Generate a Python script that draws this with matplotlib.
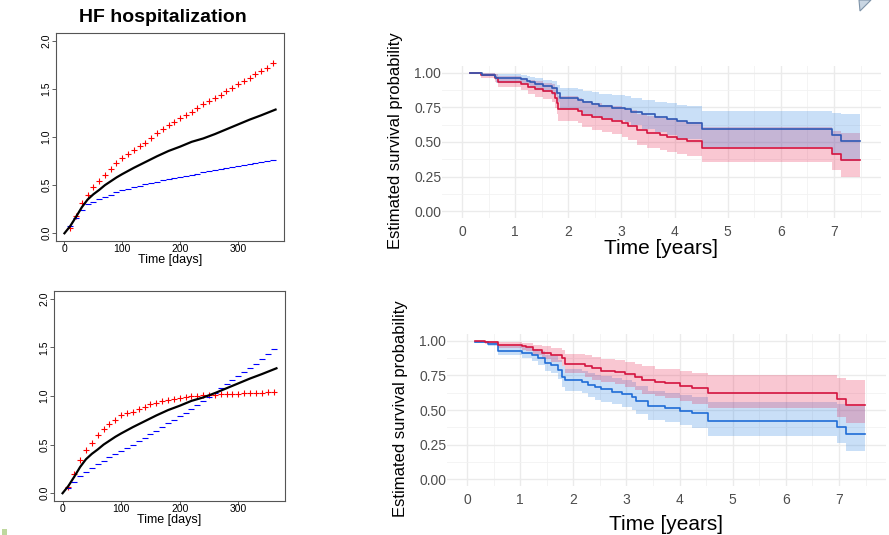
import numpy as np
import matplotlib
matplotlib.use("Agg")
import matplotlib.pyplot as plt
from matplotlib.patches import Polygon, Rectangle
from matplotlib.ticker import MultipleLocator

plt.rcParams['font.family'] = ['Liberation Sans', 'DejaVu Sans']

# ---------------------- LEFT PANELS (cumulative HF hospitalization) ----------------------
curve_days = [0, 10, 20, 30, 40, 50, 60, 70, 80, 90, 100, 120, 140, 160, 180,
              200, 220, 240, 260, 280, 300, 320, 340, 365]
curve_vals = [0, 0.075, 0.17, 0.27, 0.35, 0.405, 0.45, 0.50, 0.54, 0.58, 0.615,
              0.68, 0.74, 0.80, 0.855, 0.90, 0.95, 0.985, 1.03, 1.08, 1.13,
              1.18, 1.225, 1.285]

marker_days = list(range(10, 361, 10))

top_red = [0.06, 0.175, 0.31, 0.40, 0.48, 0.54, 0.61, 0.67, 0.73, 0.78, 0.82, 0.86,
           0.91, 0.94, 0.99, 1.04, 1.08, 1.12, 1.16, 1.20, 1.23, 1.26, 1.30, 1.34,
           1.37, 1.40, 1.44, 1.48, 1.51, 1.55, 1.58, 1.61, 1.65, 1.69, 1.72, 1.77]
top_blue = [0.08, 0.16, 0.24, 0.30, 0.33, 0.355, 0.38, 0.40, 0.43, 0.45, 0.465, 0.48,
            0.495, 0.51, 0.525, 0.535, 0.55, 0.56, 0.575, 0.585, 0.595, 0.61, 0.62,
            0.635, 0.645, 0.66, 0.67, 0.68, 0.69, 0.70, 0.71, 0.72, 0.73, 0.74, 0.75, 0.76]

bot_red = [0.06, 0.20, 0.34, 0.44, 0.52, 0.60, 0.66, 0.71, 0.75, 0.80, 0.83, 0.84,
           0.87, 0.89, 0.92, 0.93, 0.95, 0.96, 0.97, 0.98, 0.99, 1.00, 1.005, 1.01,
           1.01, 1.015, 1.02, 1.02, 1.025, 1.025, 1.03, 1.03, 1.035, 1.035, 1.04, 1.04]
bot_blue = [0.05, 0.12, 0.18, 0.22, 0.26, 0.30, 0.33, 0.37, 0.40, 0.43, 0.47, 0.50,
            0.54, 0.57, 0.61, 0.64, 0.68, 0.72, 0.75, 0.79, 0.83, 0.87, 0.91, 0.95,
            0.99, 1.03, 1.08, 1.12, 1.16, 1.21, 1.25, 1.29, 1.33, 1.38, 1.43, 1.48]

day_ticks = [0, 100, 200, 300]
cum_ticks = [0.0, 0.5, 1.0, 1.5, 2.0]

# ---------------------- RIGHT PANELS (Kaplan-Meier) ----------------------
# top-right
t1_blue_t = [0.15, 0.37, 0.62, 0.65, 1.12, 1.22, 1.28, 1.37, 1.53, 1.69, 1.78, 1.84, 2.19, 2.28,
             2.44, 2.57, 2.82, 3.07, 3.19, 3.38, 3.63, 3.85, 4.04, 4.23, 4.51, 6.96, 7.14, 7.49]
t1_blue_s = [1.0, 0.988, 0.973, 0.961, 0.954, 0.944, 0.932, 0.92, 0.906, 0.889, 0.853, 0.816, 0.804,
             0.787, 0.775, 0.761, 0.749, 0.737, 0.72, 0.70, 0.679, 0.665, 0.65, 0.64, 0.592, 0.548,
             0.507, 0.507]
t1_blue_hi = [1.0, 1.0, 0.995, 0.99, 0.985, 0.978, 0.97, 0.962, 0.952, 0.94, 0.915, 0.89, 0.88, 0.87,
              0.86, 0.85, 0.84, 0.83, 0.82, 0.805, 0.79, 0.78, 0.77, 0.76, 0.725, 0.71, 0.70, 0.70]
t1_blue_lo = [1.0, 0.975, 0.95, 0.93, 0.92, 0.91, 0.895, 0.878, 0.86, 0.838, 0.79, 0.74, 0.728, 0.705,
              0.69, 0.672, 0.658, 0.644, 0.62, 0.595, 0.57, 0.55, 0.53, 0.52, 0.465, 0.41, 0.36, 0.36]

t1_red_t = [0.15, 0.35, 0.62, 0.68, 1.12, 1.25, 1.37, 1.53, 1.69, 1.75, 1.78, 1.81, 2.19, 2.25, 2.44,
            2.63, 2.82, 3.01, 3.13, 3.29, 3.48, 3.73, 3.85, 4.04, 4.23, 4.51, 6.96, 7.14, 7.49]
t1_red_s = [1.0, 0.983, 0.961, 0.935, 0.92, 0.901, 0.882, 0.87, 0.853, 0.816, 0.78, 0.739, 0.727,
            0.696, 0.679, 0.665, 0.652, 0.635, 0.616, 0.587, 0.563, 0.551, 0.539, 0.52, 0.51, 0.46,
            0.413, 0.37, 0.37]
t1_red_hi = [1.0, 0.997, 0.99, 0.975, 0.965, 0.952, 0.94, 0.93, 0.918, 0.89, 0.86, 0.83, 0.82, 0.795,
             0.78, 0.77, 0.76, 0.745, 0.73, 0.705, 0.685, 0.675, 0.665, 0.65, 0.645, 0.61, 0.58,
             0.567, 0.567]
t1_red_lo = [0.99, 0.965, 0.935, 0.895, 0.875, 0.85, 0.825, 0.81, 0.79, 0.745, 0.70, 0.655, 0.64,
             0.605, 0.585, 0.57, 0.555, 0.535, 0.515, 0.48, 0.455, 0.445, 0.43, 0.41, 0.40, 0.357,
             0.297, 0.246, 0.246]

# bottom-right
t2_red_t = [0.15, 0.34, 0.59, 1.03, 1.12, 1.25, 1.41, 1.59, 1.78, 1.84, 2.22, 2.35, 2.53, 2.78,
            2.97, 3.16, 3.29, 3.54, 3.73, 4.01, 4.23, 4.54, 6.96, 7.14, 7.49]
t2_red_s = [1.0, 0.99, 0.971, 0.962, 0.954, 0.935, 0.915, 0.899, 0.875, 0.836, 0.819, 0.802, 0.785,
            0.773, 0.761, 0.742, 0.717, 0.70, 0.693, 0.674, 0.657, 0.625, 0.58, 0.536, 0.536]
t2_red_hi = [1.0, 1.0, 0.99, 0.985, 0.982, 0.97, 0.96, 0.95, 0.935, 0.905, 0.895, 0.88, 0.87, 0.86,
             0.85, 0.835, 0.815, 0.80, 0.795, 0.78, 0.77, 0.754, 0.73, 0.717, 0.717]
t2_red_lo = [1.0, 0.975, 0.95, 0.935, 0.925, 0.90, 0.87, 0.85, 0.815, 0.765, 0.742, 0.72, 0.70, 0.685,
             0.67, 0.645, 0.615, 0.60, 0.59, 0.565, 0.545, 0.515, 0.45, 0.405, 0.405]

t2_blue_t = [0.15, 0.40, 0.59, 1.03, 1.22, 1.34, 1.47, 1.59, 1.72, 1.78, 1.84, 2.16, 2.28, 2.41,
             2.53, 2.72, 2.91, 3.10, 3.19, 3.41, 3.73, 4.01, 4.23, 4.54, 6.96, 7.14, 7.49]
t2_blue_s = [0.995, 0.978, 0.93, 0.916, 0.899, 0.875, 0.838, 0.826, 0.79, 0.74, 0.717, 0.70, 0.681,
             0.664, 0.65, 0.633, 0.616, 0.597, 0.568, 0.53, 0.512, 0.495, 0.476, 0.423, 0.38, 0.324,
             0.324]
t2_blue_hi = [1.0, 0.995, 0.965, 0.955, 0.945, 0.93, 0.90, 0.89, 0.86, 0.82, 0.80, 0.785, 0.77, 0.755,
              0.745, 0.73, 0.715, 0.70, 0.675, 0.64, 0.625, 0.61, 0.595, 0.56, 0.545, 0.53, 0.53]
t2_blue_lo = [0.985, 0.96, 0.895, 0.875, 0.855, 0.825, 0.78, 0.765, 0.725, 0.665, 0.635, 0.62, 0.595,
              0.575, 0.56, 0.54, 0.52, 0.50, 0.47, 0.43, 0.41, 0.39, 0.37, 0.315, 0.26, 0.20, 0.20]

year_ticks = [0, 1, 2, 3, 4, 5, 6, 7]
surv_ticks = [0.0, 0.25, 0.5, 0.75, 1.0]

RED = "#D4143F"
RED_FILL = "#E8204F"
BLUE_TOP = "#3058B4"
BLUE_BOT = "#1F6CD6"
BLUE_FILL = "#2A80E0"

# ---------------------- FIGURE ----------------------
W, H = 889, 535
fig = plt.figure(figsize=(W / 100, H / 100), dpi=100)


def box(l, t, r, b):
    return [l / W, 1 - b / H, (r - l) / W, (b - t) / H]


def draw_cum(ax, red, blue):
    ax.plot(curve_days, curve_vals, color="black", lw=1.6, zorder=3)
    ax.plot(marker_days, red, ls="none", marker="+", color="#FF0000",
            ms=4, mew=0.8, zorder=2)
    ax.plot(marker_days, blue, ls="none", marker="_", color="#0000FF",
            ms=4.5, mew=0.8, zorder=2)
    ax.set_xlim(-14.6, 379.6)
    ax.set_ylim(-0.08, 2.08)
    ax.set_xticks(day_ticks)
    ax.set_yticks(cum_ticks)
    ax.set_yticklabels([f"{v:.1f}" for v in cum_ticks], rotation=90, va="center")
    ax.tick_params(direction="out", length=3, width=0.6, labelsize=7.5,
                   color="#444444")
    ax.tick_params(axis="x", pad=-0.5)
    ax.tick_params(axis="y", pad=0.3)
    for s in ax.spines.values():
        s.set_color("#555555")
        s.set_linewidth(0.8)
    ax.set_xlabel("Time [days]", fontsize=9, labelpad=0)


ax1 = fig.add_axes(box(56, 33, 284, 241))
draw_cum(ax1, top_red, top_blue)
fig.text(163 / W, 1 - 17 / H, "HF hospitalization", ha="center", va="center",
         fontsize=14, fontweight="bold")

ax2 = fig.add_axes(box(54, 291, 285, 501))
draw_cum(ax2, bot_red, bot_blue)


def draw_km(ax, curves, xlab_y):
    for t, s, lo, hi, col, fill in curves:
        ax.fill_between(t, lo, hi, step="post", color=fill, alpha=0.25, lw=0, zorder=1)
    for t, s, lo, hi, col, fill in curves:
        ax.step(t, s, where="post", color=col, lw=1.2, zorder=3)
    ax.set_xlim(-0.375, 7.875)
    ax.set_ylim(-0.05, 1.05)
    ax.set_xticks(year_ticks)
    ax.set_yticks(surv_ticks)
    ax.set_yticklabels([f"{v:.2f}" for v in surv_ticks])
    ax.xaxis.set_minor_locator(MultipleLocator(0.5))
    ax.yaxis.set_minor_locator(MultipleLocator(0.125))
    ax.grid(True, which="major", color="#EBEBEB", lw=1.0, zorder=0)
    ax.grid(True, which="minor", color="#F2F2F2", lw=0.6, zorder=0)
    ax.set_axisbelow(True)
    for s in ax.spines.values():
        s.set_visible(False)
    ax.tick_params(which="both", length=0, labelsize=10, labelcolor="#4D4D4D")
    ax.tick_params(axis="x", pad=5)
    ax.tick_params(axis="y", pad=0.5)
    ax.set_ylabel("Estimated survival probability", fontsize=12)
    ax.yaxis.set_label_coords(-0.089, 0.507)
    ax.set_xlabel("Time [years]", fontsize=15)
    ax.xaxis.set_label_coords(0.5, xlab_y)


ax3 = fig.add_axes(box(442, 66, 880.5, 218))
draw_km(ax3, [(t1_red_t, t1_red_s, t1_red_lo, t1_red_hi, RED, RED_FILL),
              (t1_blue_t, t1_blue_s, t1_blue_lo, t1_blue_hi, BLUE_TOP, BLUE_FILL)], -0.135)

ax4 = fig.add_axes(box(447, 334, 885.5, 486))
draw_km(ax4, [(t2_blue_t, t2_blue_s, t2_blue_lo, t2_blue_hi, BLUE_BOT, BLUE_FILL),
              (t2_red_t, t2_red_s, t2_red_lo, t2_red_hi, RED, RED_FILL)], -0.19)

# slide decorations
fig.patches.append(Polygon([[859 / W, 1.0], [871 / W, 1.0], [860 / W, 1 - 11 / H]],
                           closed=True, transform=fig.transFigure,
                           facecolor="#C9D6E3", edgecolor="#7E93A8", lw=0.8))
fig.patches.append(Rectangle((2 / W, 0), 5 / W, 6 / H, transform=fig.transFigure,
                             facecolor="#BFD89E", edgecolor="none"))

fig.savefig("out.png", dpi=100)
